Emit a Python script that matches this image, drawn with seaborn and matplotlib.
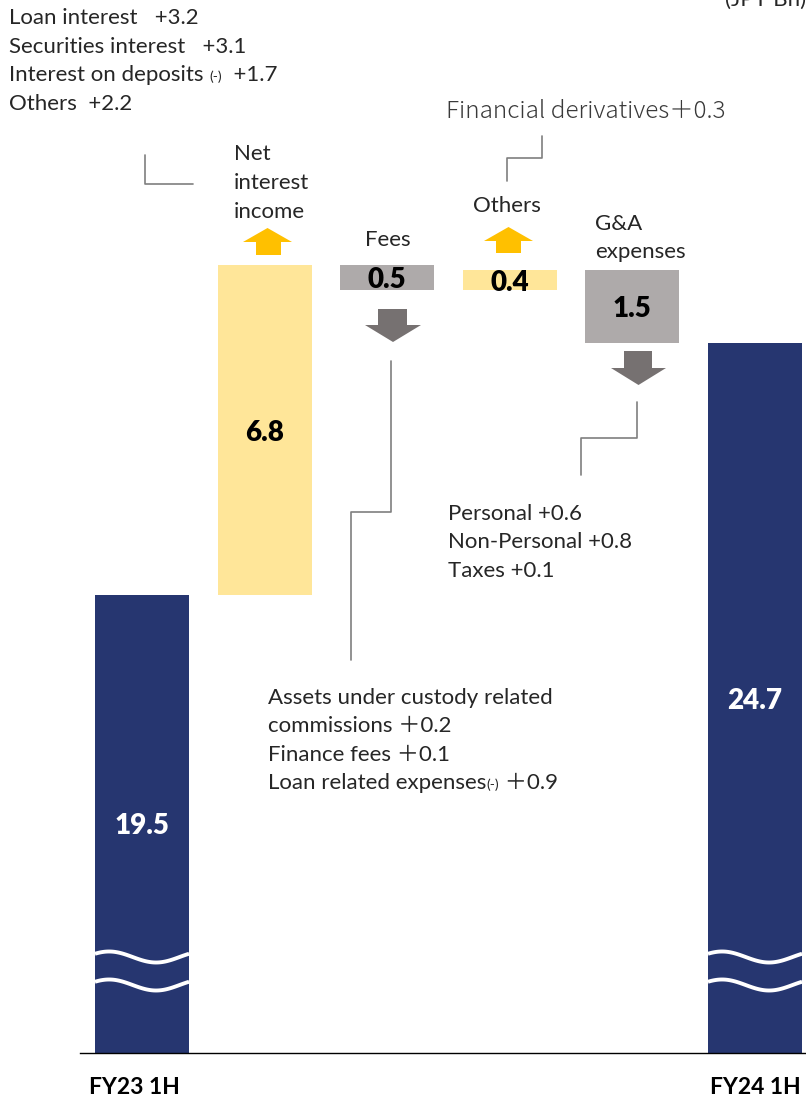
import numpy as np
import pandas as pd
import matplotlib
matplotlib.use("Agg")
import matplotlib.pyplot as plt
import matplotlib.transforms as mtransforms
from matplotlib.patches import Polygon
from matplotlib.lines import Line2D
import seaborn as sns

# ---------------- data ----------------
steps = ["FY23 1H", "Net interest income", "Fees", "Others", "G&A expenses", "FY24 1H"]
tick_labels = ["FY23 1H", "", "", "", "", "FY24 1H"]
start_value = 19.5
deltas = [6.8, -0.5, 0.4, -1.5]
end_value = 24.7
value_labels = ["19.5", "6.8", "0.5", "0.4", "1.5", "24.7"]

nii_lines = [["Loan interest   +3.2"],
             ["Securities interest   +3.1"],
             ["Interest on deposits ", "(-)", "  +1.7"],
             ["Others  +2.2"]]
fees_lines = [["Assets under custody related"],
              ["commissions ＋0.2"],
              ["Finance fees ＋0.1"],
              ["Loan related expenses", "(-)", " ＋0.9"]]
ga_lines = ["Personal +0.6", "Non-Personal +0.8", "Taxes +0.1"]
others_note = "Financial derivatives＋0.3"
unit_label = "(JPY Bn)"

# ---------------- style ----------------
NAVY = "#263670"
YELLOW = "#FFE699"
GRAYBAR = "#AEAAAA"
ARROW_GRAY = "#767171"
ORANGE = "#FFC000"
LINE_GRAY = "#7F7F7F"

sns.set_theme(style="white")
plt.rcParams["font.family"] = ["Lato", "Noto Sans CJK JP", "DejaVu Sans"]

W, H = 806, 1098
fig = plt.figure(figsize=(W / 100, H / 100), dpi=100)
base_px = 1053
ax = fig.add_axes([0, (H - base_px) / H, 1, base_px / H])

# waterfall table
rows = [dict(step=steps[0], bottom=0.0, height=start_value, kind="total")]
running = start_value
for s, d in zip(steps[1:-1], deltas):
    if d >= 0:
        rows.append(dict(step=s, bottom=running, height=d, kind="up"))
    else:
        rows.append(dict(step=s, bottom=running + d, height=-d, kind="down"))
    running += d
rows.append(dict(step=steps[-1], bottom=0.0, height=end_value, kind="total"))
df = pd.DataFrame(rows)

colors = {"total": NAVY, "up": YELLOW, "down": GRAYBAR}
bar_w = 0.767
for kind, col in colors.items():
    sub = df[df["kind"] == kind]
    sns.barplot(data=sub, x="step", y="height", order=steps, color=col,
                saturation=1, width=bar_w, errorbar=None, linewidth=0,
                bottom=sub["bottom"].to_numpy(), ax=ax)

# scales: 48.46 px per unit, axis broken at baseline
ppu = 48.46
ymin = start_value - (base_px - 595) / ppu
ymax = start_value + 595 / ppu
ax.set_ylim(ymin, ymax)
spacing = 122.6
x0 = -142 / spacing
x1 = (W - 142) / spacing
ax.set_xlim(x0, x1)

for sp in ["left", "right", "top"]:
    ax.spines[sp].set_visible(False)
ax.spines["bottom"].set_color("black")
ax.spines["bottom"].set_linewidth(1.0)
ax.spines["bottom"].set_bounds((80 - 142) / spacing, x1)
ax.set_yticks([])
ax.set_ylabel("")
ax.set_xlabel("")
ax.set_xticks(range(len(steps)))
ax.set_xticklabels(tick_labels, fontsize=16.5, fontweight="bold", color="black")
ax.tick_params(axis="x", length=0, pad=17)
ax.grid(False)
first_lbl = ax.get_xticklabels()[0]
first_lbl.set_transform(first_lbl.get_transform() +
                        mtransforms.ScaledTranslation(-8 / 100, 0, fig.dpi_scale_trans))

# value labels
for i, r in df.iterrows():
    lo = max(r["bottom"], ymin)
    mid = (lo + r["bottom"] + r["height"]) / 2
    col = "white" if r["kind"] == "total" else "black"
    ax.text(i, mid, value_labels[i], ha="center", va="center_baseline",
            fontsize=20, fontweight="heavy", color=col, zorder=6)

# wavy break marks on total bars
half = bar_w / 2
for i in [0, len(steps) - 1]:
    xs = np.linspace(i - half, i + half, 80)
    t = (xs - (i - half)) / bar_w
    for off_px in [957, 985]:
        ypx = off_px + 5.5 * np.sin(2 * np.pi * (t - 0.4))
        yv = start_value - (ypx - 595) / ppu
        ax.plot(xs, yv, color="white", lw=2.8, solid_capstyle="butt", zorder=5)

# pixel transform (top-left origin)
PX = mtransforms.Affine2D().scale(1 / W, -1 / H).translate(0, 1) + fig.transFigure


def ptext(x, y, s, **kw):
    return fig.text(x, y, s, transform=PX, **kw)


renderer = fig.canvas.get_renderer()


def rich_line(x, y, parts, size, **kw):
    cx = x
    for p in parts:
        sz = size * 0.62 if p.strip() == "(-)" else size
        t = ptext(cx, y, p, fontsize=sz, ha="left", va="baseline", **kw)
        bb = t.get_window_extent(renderer=renderer)
        cx = bb.x1


def connector(pts):
    xs, ys = zip(*pts)
    fig.add_artist(Line2D(xs, ys, transform=PX, color=LINE_GRAY, lw=1.2))


def arrow(xl, xr, sl, sr, y_tip, y_mid, y_end, color):
    cx = (xl + xr) / 2
    pts = [(cx, y_tip), (xr, y_mid), (sr, y_mid), (sr, y_end),
           (sl, y_end), (sl, y_mid), (xl, y_mid)]
    fig.add_artist(Polygon(pts, closed=True, transform=PX, facecolor=color,
                           edgecolor="none"))


BODY = 16

# top-left breakdown of net interest income
for k, parts in enumerate(nii_lines):
    rich_line(9, 24 + 28.6 * k, parts, BODY)

# fees breakdown
for k, parts in enumerate(fees_lines):
    rich_line(268, 704 + 28.4 * k, parts, BODY)

# G&A breakdown
for k, s in enumerate(ga_lines):
    ptext(448, 520 + 28.5 * k, s, fontsize=BODY, ha="left", va="baseline")

# others note
ptext(446, 118, others_note, fontsize=17.5, ha="left", va="baseline",
      color="#3A3A3A", family=["Noto Sans CJK JP", "DejaVu Sans"], fontweight="light")

# unit (partly outside the top edge, as in the reference)
ptext(806, 0, unit_label, fontsize=16, ha="right", va="center")

# step titles
TS = 16
ptext(234, 183, "Net\ninterest\nincome", fontsize=TS, ha="left", va="center",
      linespacing=1.55, multialignment="left")
ptext(388, 240, "Fees", fontsize=TS, ha="center", va="center")
ptext(507, 206, "Others", fontsize=TS, ha="center", va="center")
ptext(595, 224, "G&A", fontsize=TS, ha="left", va="center")
ptext(595, 252, "expenses", fontsize=TS, ha="left", va="center")

# arrows
arrow(243, 292, 256, 281, 228, 242, 255, ORANGE)
arrow(484, 533, 496, 521, 227, 241, 253, ORANGE)
arrow(365, 421, 378, 407, 342, 325, 309, ARROW_GRAY)
arrow(611, 666, 624, 652, 385, 368, 351, ARROW_GRAY)

# connectors
connector([(145, 155), (145, 184), (193, 184)])
connector([(542, 136), (542, 158), (507, 158), (507, 181)])
connector([(391, 361), (391, 512), (351, 512), (351, 660)])
connector([(637, 402), (637, 438), (581, 438), (581, 475)])

fig.savefig("out.png", dpi=100)
